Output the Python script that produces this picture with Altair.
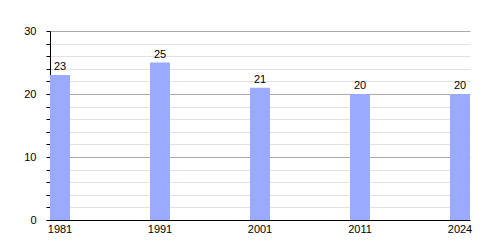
import altair as alt
import pandas as pd

years = ["1981", "1991", "2001", "2011", "2024"]
values = [23, 25, 21, 20, 20]

df = pd.DataFrame({"year": years, "value": values})

FONT = "Liberation Sans"

x = alt.X("year:N", sort=years, title=None,
          scale=alt.Scale(paddingInner=0.8, paddingOuter=0),
          axis=alt.Axis(labelAngle=0, ticks=False, domainColor="black", labelColor="black",
                        labelFont=FONT, labelFontSize=11, labelPadding=3, grid=False))
y = alt.Y("value:Q", title=None,
          scale=alt.Scale(domain=[0, 30], nice=False),
          axis=alt.Axis(values=list(range(0, 31, 2)), tickCount=40,
                        labelExpr="datum.value % 10 == 0 ? datum.label : ''",
                        labelOverlap=False,
                        gridColor={"condition": {"test": "datum.value % 10 == 0", "value": "#aaaaaa"},
                                   "value": "#e2e2e2"},
                        tickColor="black", tickSize=4, domainColor="black",
                        labelColor="black", labelFont=FONT, labelFontSize=11, labelPadding=10))

bars = alt.Chart(df).mark_bar(color="#99aaff").encode(x=x, y=y)
text = alt.Chart(df).mark_text(baseline="bottom", dy=-3, font=FONT, fontSize=11, color="black").encode(
    x=alt.X("year:N", sort=years), y="value:Q", text="value:Q")

chart = (bars + text).properties(
    width=420, height=189,
    autosize=alt.AutoSizeParams(type="none"),
    padding={"left": 50, "top": 31, "right": 30, "bottom": 30},
).configure_view(stroke=None).configure_axis(domainWidth=1)

chart.save("out.html", embed_options={"renderer": "svg", "actions": False})
